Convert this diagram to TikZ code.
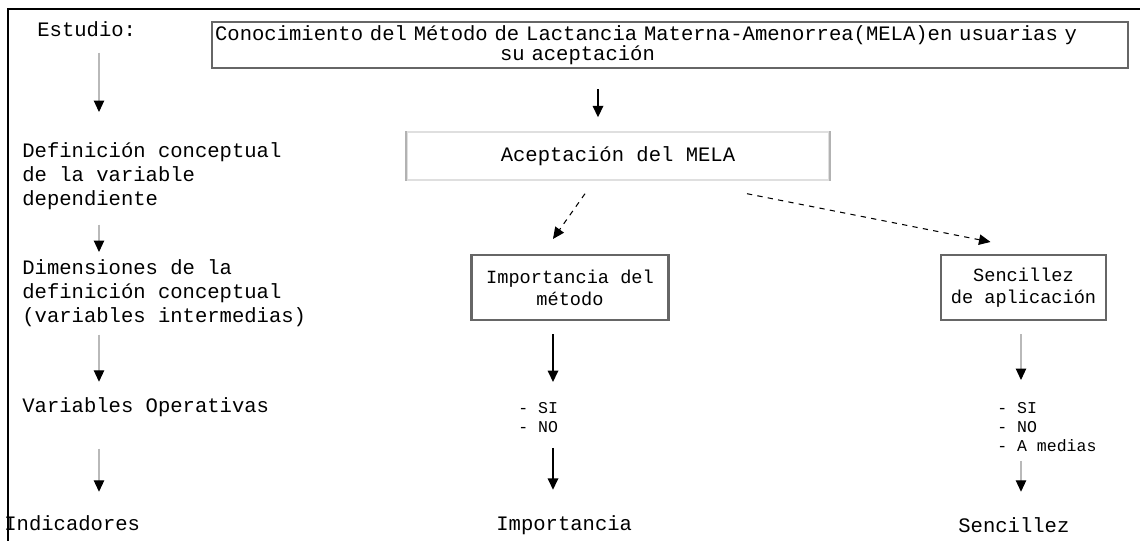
\documentclass[tikz,border=0pt]{standalone}
\usepackage{fontspec}
\setmonofont{Liberation Mono}
\usetikzlibrary{calc}
\usetikzlibrary{positioning}
\usetikzlibrary{arrows.meta}
\tikzset{
  texto/.style = {font=\ttfamily\fontsize{11.7}{13.6}\selectfont, inner sep=0pt,
    align=left},                                  % left column text
  chico/.style = {font=\ttfamily\fontsize{9.4}{10.8}\selectfont, inner sep=0pt,
    align=left},                                  % SI / NO lists
  caja/.style = {draw=black!60, line width=1.2pt, inner sep=0pt,
    font=\ttfamily\fontsize{10.6}{12.5}\selectfont, align=center},  % boxes
  flechagris/.style = {->, draw=gray!55, line width=0.6pt},
  flechanegra/.style = {->, draw=black, line width=1pt},
  flechatrazos/.style = {->, draw=black, dashed, line width=0.6pt}
}

\begin{document}
\begin{tikzpicture}[x=0.02cm, y=-0.02cm, >={Triangle[width=0.21cm, length=0.23cm, color=black]}]
  \useasboundingbox (0,0) rectangle (1140,541);
  % frame
  \draw[line width=1.7pt, line join=miter] (1140,9) -- (8,9) -- (8,541);
  \coordinate (col1) at (99,0);
  \coordinate (colt) at (598,0);
  \coordinate (col2) at (553,0);
  \coordinate (col3) at (1021,0);

  % left column
  \node[texto, anchor=base west] (estudio) at (37,36) {Estudio:};
  \node[texto, anchor=north west] (defcon) at (22,142)
    {Definición conceptual\\de la variable\\dependiente};
  \node[texto, anchor=north west] (dimens) at (22,259)
    {Dimensiones de la\\definición conceptual\\(variables intermedias)};
  \node[texto, anchor=base west] (varop) at (22,412) {Variables Operativas};
  \node[texto, anchor=base west] (indic) at (4,530) {Indicadores};

  \draw[flechagris, shorten <=0.32cm, shorten >=0.6cm] (estudio.south -| col1) -- (defcon.north -| col1);
  \draw[flechagris, shorten <=0.3cm, shorten >=0.14cm] (defcon.south -| col1) -- (dimens.north -| col1);
  \draw[flechagris, shorten <=0.16cm, shorten >=0.3cm] (dimens.south -| col1) -- (varop.north -| col1);
  \draw[flechagris, shorten <=0.64cm, shorten >=0.46cm] (varop.south -| col1) -- (indic.north -| col1);

  % top box
  \node[caja, font=\ttfamily\fontsize{11.7}{11.5}\selectfont, align=left,
    text width=18.2cm, inner xsep=0.06cm, minimum height=0.92cm] (tope) at (670,45)
    {Conocimiento del Método de Lactancia Materna-Amenorrea(MELA)en usuarias y\\\hspace*{5.7cm}su aceptación};

  \node[draw=gray!25, line width=0.8pt, minimum width=8.44cm, minimum height=0.96cm,
    font=\ttfamily\fontsize{11.7}{12.7}\selectfont] (acep) at (618,156) {Aceptación del MELA};
  \draw[gray!60, line width=1.3pt] (acep.north west) -- (acep.south west);
  \draw[gray!60, line width=1.3pt] (acep.north east) -- (acep.south east);
  \draw[flechanegra, shorten <=0.4cm, shorten >=0.28cm] (tope.south -| colt) -- (acep.north -| colt);

  \node[caja, minimum width=3.94cm, minimum height=1.3cm] (impo) at (570,287.5)
    {Importancia del\\método};
  \node[caja, minimum width=3.3cm, minimum height=1.3cm] (senc) at (1023.5,287.5)
    {Sencillez\\de aplicación};
  \draw[flechatrazos] ($(acep.south)+(-33,13)$) -- ($(impo.north)+(-17,-15)$);
  \draw[flechatrazos] ($(acep.south)+(129,13)$) -- ($(senc.north)+(-33,-12)$);

  % middle column
  \node[chico, anchor=north west] (sino1) at (518,402) {- SI\\- NO};
  \node[texto, anchor=base west] (impoind) at (496,530) {Importancia};
  \draw[flechanegra, shorten <=0.26cm, shorten >=0.4cm] (impo.south -| col2) -- (sino1.north -| col2);
  \draw[flechanegra, shorten <=0.3cm, shorten >=0.5cm] (sino1.south -| col2) -- (impoind.north -| col2);

  % right column
  \node[chico, anchor=north west] (sino2) at (997,402) {- SI\\- NO\\- A medias};
  \node[texto, anchor=base west] (sencind) at (958,532) {Sencillez};
  \draw[flechagris, shorten <=0.26cm, shorten >=0.44cm] (senc.south -| col3) -- (sino2.north -| col3);
  \draw[flechagris, shorten <=0.18cm, shorten >=0.5cm] (sino2.south -| col3) -- (sencind.north -| col3);
\end{tikzpicture}
\end{document}
